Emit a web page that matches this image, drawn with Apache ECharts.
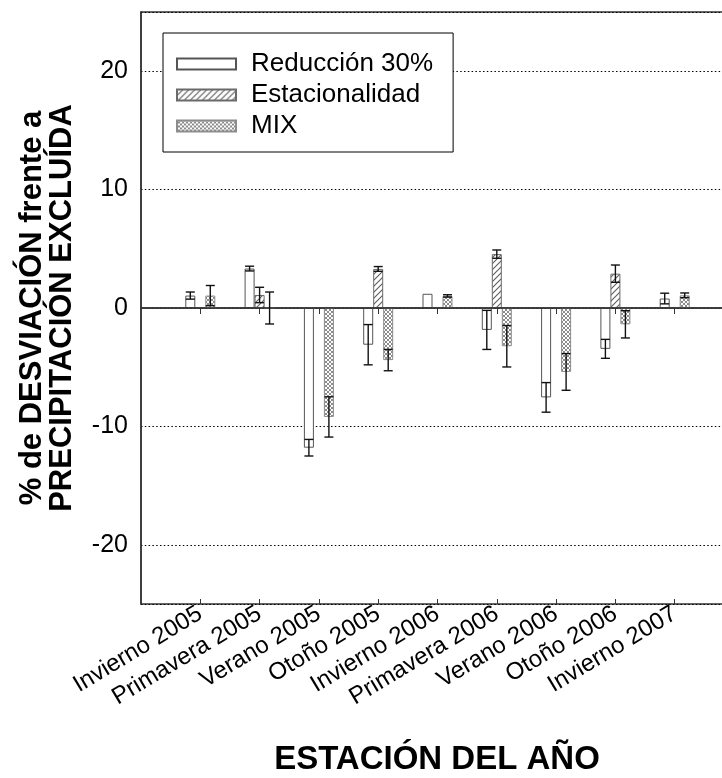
<!DOCTYPE html>
<html>
<head>
<meta charset="utf-8">
<title>Desviación frente a precipitación excluida</title>
<script src="https://cdn.jsdelivr.net/npm/echarts@6/dist/echarts.min.js"></script>
<style>
  html, body { margin: 0; padding: 0; background: #fff; }
  #chart { width: 722px; height: 778px; }
</style>
</head>
<body>
<div id="chart"></div>
<script>
// Seasons on the x axis
const seasons = [
  'Invierno 2005', 'Primavera 2005', 'Verano 2005', 'Otoño 2005',
  'Invierno 2006', 'Primavera 2006', 'Verano 2006', 'Otoño 2006', 'Invierno 2007'
];

// Mean % deviation per treatment and its error (null = no bar / no error bar)
const reduccion    = [1.05, 3.33, -11.8, -3.1, 1.2, -1.85, -7.55, -3.45, 0.8];
const reduccionErr = [0.3, 0.2, 0.7, 1.7, null, 1.65, 1.25, 0.8, 0.45];

const estacionalidad    = [null, 1.1, null, 3.3, null, 4.55, null, 2.9, null];
const estacionalidadErr = [null, 0.65, null, 0.2, null, 0.35, null, 0.73, null];

const mix    = [1.05, 0, -9.2, -4.4, 1.02, -3.23, -5.4, -1.38, 1.07];
const mixErr = [0.85, 1.35, 1.7, 0.9, 0.1, 1.75, 1.55, 1.15, 0.2];

// Y axis: range and labelled ticks
const yMin = -25, yMax = 25;
const yTicks = [-20, -10, 0, 10, 20];

const FONT = 'Liberation Sans, Arial, sans-serif';

// One empty slot on each side so the seasons sit one step in from the edges
const xCats = [''].concat(seasons, [' ']);
const pad = arr => [null].concat(arr, [null]);

// Fill patterns
function hatchPattern() {
  const c = document.createElement('canvas');
  c.width = 6; c.height = 6;
  const g = c.getContext('2d');
  g.fillStyle = '#fff'; g.fillRect(0, 0, 6, 6);
  g.strokeStyle = '#5e5e5e'; g.lineWidth = 1.1;
  g.beginPath();
  g.moveTo(-1, 7); g.lineTo(7, -1);
  g.moveTo(-1, 1); g.lineTo(1, -1);
  g.moveTo(5, 7); g.lineTo(7, 5);
  g.stroke();
  return c;
}
function crossPattern() {
  const c = document.createElement('canvas');
  c.width = 4; c.height = 4;
  const g = c.getContext('2d');
  g.fillStyle = '#fff'; g.fillRect(0, 0, 4, 4);
  g.fillStyle = '#8c8c8c';
  for (let i = 0; i < 4; i++) {
    g.fillRect(i, i, 1, 1);
    g.fillRect(3 - i, i, 1, 1);
  }
  return c;
}

// Error bars drawn at the bar's horizontal offset within its group
function errorSeries(vals, errs, offset) {
  const data = [];
  vals.forEach((v, i) => {
    if (v != null && errs[i] != null) data.push([i + 1, v + errs[i], v - errs[i]]);
  });
  return {
    type: 'custom',
    silent: true,
    z: 5,
    encode: { x: 0, y: [1, 2] },
    data: data,
    renderItem: (params, api) => {
      const cx = api.coord([api.value(0), 0])[0] + offset;
      const hi = api.coord([api.value(0), api.value(1)])[1];
      const lo = api.coord([api.value(0), api.value(2)])[1];
      const h = 4.5;
      const st = { stroke: '#111', lineWidth: 1.4 };
      return {
        type: 'group',
        children: [
          { type: 'line', shape: { x1: cx, y1: hi, x2: cx, y2: lo }, style: st },
          { type: 'line', shape: { x1: cx - h, y1: hi, x2: cx + h, y2: hi }, style: st },
          { type: 'line', shape: { x1: cx - h, y1: lo, x2: cx + h, y2: lo }, style: st }
        ]
      };
    }
  };
}

const showCat = (i, v) => String(v).trim() !== '';

const chart = echarts.init(document.getElementById('chart'), null, { renderer: 'canvas' });

chart.setOption({
  animation: false,
  backgroundColor: '#fff',
  grid: {
    left: 141, width: 593, top: 12, bottom: 174,
    containLabel: false, outerBoundsMode: 'none',
    show: true, borderColor: '#333', borderWidth: 1.5, backgroundColor: 'transparent'
  },
  legend: {
    data: ['Reducción 30%', 'Estacionalidad', 'MIX'],
    orient: 'vertical',
    left: 163, top: 33,
    padding: [18, 20, 13, 13],
    itemGap: 5,
    itemWidth: 59, itemHeight: 11,
    icon: 'rect',
    borderColor: '#000', borderWidth: 1,
    backgroundColor: '#fff',
    textStyle: { fontFamily: FONT, fontSize: 26, lineHeight: 26, color: '#000', padding: [0, 0, 0, 10] }
  },
  xAxis: [
    {
      type: 'category',
      data: xCats,
      boundaryGap: false,
      axisLine: { lineStyle: { color: '#333', width: 1.5 } },
      axisTick: { interval: showCat, length: 6, lineStyle: { color: '#333', width: 1 } },
      axisLabel: {
        interval: showCat, rotate: 31, margin: 8,
        fontFamily: FONT, fontSize: 24, color: '#000'
      },
      splitLine: { show: false }
    },
    {
      // inner half of the crossing tick marks
      type: 'category',
      data: xCats,
      position: 'bottom',
      boundaryGap: false,
      axisLine: { show: false },
      axisTick: { interval: showCat, inside: true, length: 5, lineStyle: { color: '#333', width: 1 } },
      axisLabel: { show: false },
      splitLine: { show: false }
    }
  ],
  yAxis: {
    type: 'value',
    min: yMin, max: yMax, splitNumber: 5,
    axisLine: { show: true, lineStyle: { color: '#333', width: 1.5 } },
    axisTick: { show: false },
    axisLabel: {
      margin: 13, fontFamily: FONT, fontSize: 25, color: '#000',
      showMinLabel: false, showMaxLabel: false,
      formatter: v => (yTicks.indexOf(v) >= 0 ? String(v) : '')
    },
    splitLine: { show: true, lineStyle: { color: '#000', width: 1.2, type: [1.5, 2.3] } }
  },
  series: [
    {
      name: 'Reducción 30%', type: 'bar', data: pad(reduccion),
      barWidth: 10, barGap: '0%',
      itemStyle: { color: '#fff', borderColor: '#555', borderWidth: 1 },
      markLine: {
        silent: true, symbol: 'none', label: { show: false },
        lineStyle: { color: '#333', type: 'solid', width: 1.5 },
        data: [{ yAxis: 0 }]
      }
    },
    {
      name: 'Estacionalidad', type: 'bar', data: pad(estacionalidad),
      barWidth: 10, barGap: '0%',
      itemStyle: { color: { image: hatchPattern(), repeat: 'repeat' }, borderColor: '#6a6a6a', borderWidth: 1 }
    },
    {
      name: 'MIX', type: 'bar', data: pad(mix),
      barWidth: 10, barGap: '0%',
      itemStyle: { color: { image: crossPattern(), repeat: 'repeat' }, borderColor: '#8c8c8c', borderWidth: 1 }
    },
    errorSeries(reduccion, reduccionErr, -10),
    errorSeries(estacionalidad, estacionalidadErr, 0),
    errorSeries(mix, mixErr, 10)
  ],
  graphic: [
    {
      type: 'text', x: 47, y: 308, rotation: Math.PI / 2,
      style: {
        text: '% de DESVIACIÓN frente a\nPRECIPITACIÓN EXCLUÍDA',
        font: 'bold 31px ' + FONT, fill: '#000',
        align: 'center', verticalAlign: 'middle', lineHeight: 30
      }
    },
    {
      type: 'text', x: 437, y: 760,
      style: {
        text: 'ESTACIÓN DEL AÑO',
        font: 'bold 33px ' + FONT, fill: '#000',
        align: 'center', verticalAlign: 'middle'
      }
    }
  ]
});
</script>
</body>
</html>
